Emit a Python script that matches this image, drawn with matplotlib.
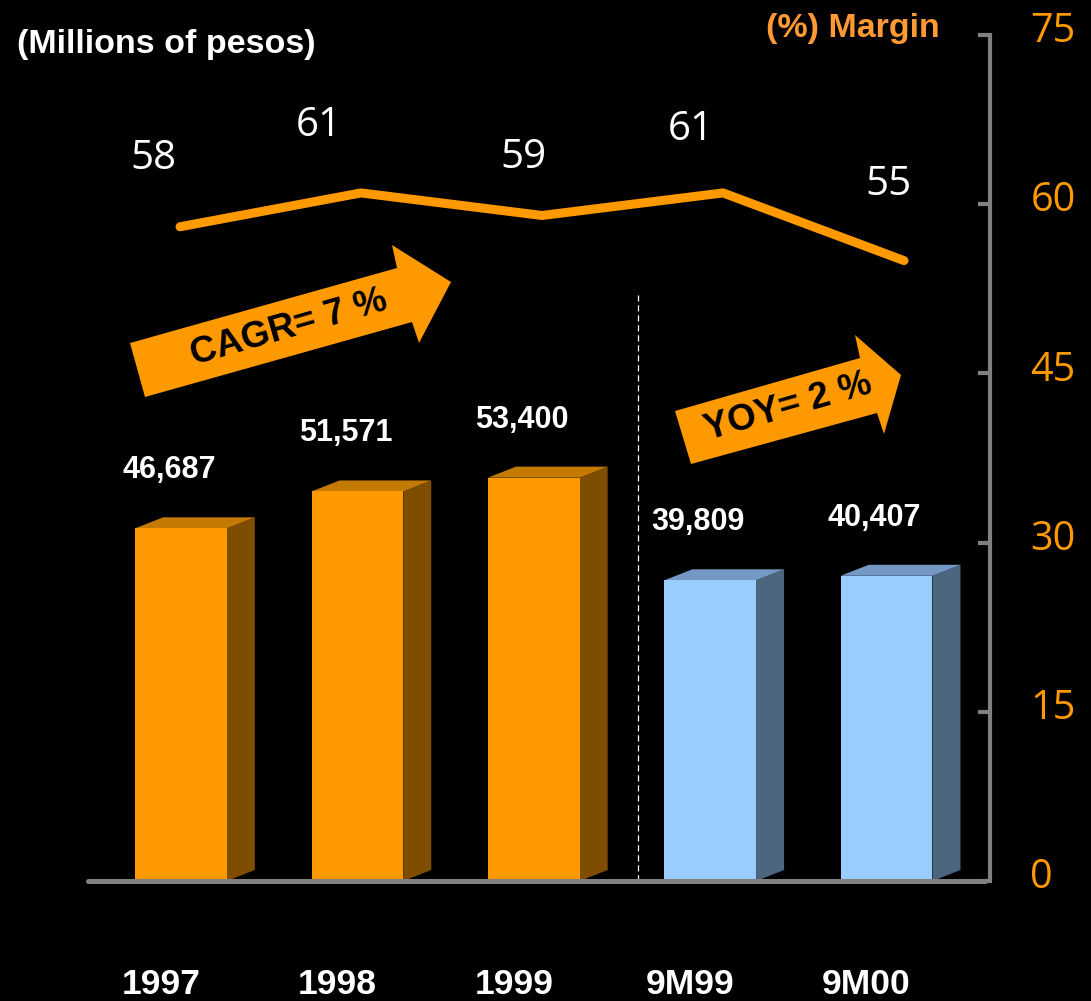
import matplotlib
matplotlib.use("Agg")
import matplotlib.pyplot as plt
from matplotlib.patches import Polygon
from matplotlib.transforms import ScaledTranslation

# ---------------- data ----------------
categories = ["1997", "1998", "1999", "9M99", "9M00"]
sales = [46687, 51571, 53400, 39809, 40407]
sales_labels = ["46,687", "51,571", "53,400", "39,809", "40,407"]
margin = [58, 61, 59, 61, 55]
margin_labels = ["58", "61", "59", "61", "55"]
groups = ["annual", "annual", "annual", "ytd", "ytd"]
margin_ticks = [0, 15, 30, 45, 60, 75]
cagr_text = "CAGR= 7 %"
yoy_text = "YOY= 2 %"

# ---------------- style ----------------
W, H, DPI = 1091, 1001, 100
ORANGE = "#FF9900"
GRAY = "#808080"
palette = {
    "annual": {"front": "#FF9900", "top": "#C47A00", "side": "#7F4D00"},
    "ytd": {"front": "#99CCFF", "top": "#7399C4", "side": "#4D6680"},
}

fig = plt.figure(figsize=(W / DPI, H / DPI), dpi=DPI, facecolor="black")


def fx(px):
    return px / W


def fy(py):
    return 1 - py / H


ax_left, ax_right, ax_top, ax_bottom = 85, 990, 35, 881
pos = [fx(ax_left), fy(ax_bottom), (ax_right - ax_left) / W, (ax_bottom - ax_top) / H]

ax = fig.add_axes(pos, facecolor="black")
ax.set_xlim(-0.544, 4.586)
ax.set_ylim(0, 112000)
for s in ax.spines.values():
    s.set_visible(False)
ax.set_xticks([])
ax.set_yticks([])

xs = list(range(len(categories)))
bw = 0.52
ax_px_w = ax_right - ax_left
ax_px_h = ax_bottom - ax_top
dx = 28 / ax_px_w * (4.586 + 0.544)
dy = 11 / ax_px_h * 112000

for x, v, g in zip(xs, sales, groups):
    c = palette[g]
    ax.bar(x, v, width=bw, color=c["front"], zorder=3, linewidth=0)
    side = [(x + bw / 2, 0), (x + bw / 2 + dx, dy), (x + bw / 2 + dx, v + dy), (x + bw / 2, v)]
    top = [(x - bw / 2, v), (x - bw / 2 + dx, v + dy), (x + bw / 2 + dx, v + dy), (x + bw / 2, v)]
    ax.add_patch(Polygon(side, closed=True, facecolor=c["side"], edgecolor="none", zorder=2))
    ax.add_patch(Polygon(top, closed=True, facecolor=c["top"], edgecolor="none", zorder=2))

# value labels above bars
for x, v, lab in zip(xs, sales, sales_labels):
    ax.annotate(lab, (x, v), xytext=(-12 * 0.72, 58 * 0.72), textcoords="offset points",
                ha="center", va="center", color="white", fontsize=22,
                fontweight="bold", family=["Liberation Sans", "DejaVu Sans"], zorder=6)

# category labels
cat_off = ScaledTranslation(-20 / DPI, 0, fig.dpi_scale_trans)
for x, lab in zip(xs, categories):
    ax.text(x, -103 / ax_px_h, lab, transform=ax.get_xaxis_transform() + cat_off,
            ha="center", va="center", color="white", fontsize=25.5, fontweight="bold",
            family=["Liberation Sans Narrow", "Liberation Sans", "DejaVu Sans"], clip_on=False)

# baseline
ax.axhline(0, xmin=3 / ax_px_w, xmax=900 / ax_px_w, color=GRAY, lw=3.6, zorder=5,
           solid_capstyle="round", clip_on=False)

# dashed separator
ax.axvline(2.59, ymin=0, ymax=(881 - 295) / ax_px_h, color="white", lw=0.9,
           ls=(0, (5, 3)), zorder=1)

# ---------------- margin line (right axis) ----------------
ax2 = fig.add_axes(pos, facecolor="none")
ax2.set_xlim(-0.525, 4.475)
ax2.set_ylim(0, 75)
ax2.set_xticks([])
for k in ["left", "top", "bottom"]:
    ax2.spines[k].set_visible(False)
ax2.spines["right"].set_color(GRAY)
ax2.spines["right"].set_linewidth(3)
ax2.yaxis.tick_right()
ax2.set_yticks(margin_ticks)
ax2.set_yticklabels([str(t) for t in margin_ticks])
ax2.tick_params(axis="y", direction="in", length=9, width=3, color=GRAY, pad=29,
                labelcolor=ORANGE, labelsize=28.5)
lab_off = ScaledTranslation(0, 8 / DPI, fig.dpi_scale_trans)
for t in ax2.get_yticklabels():
    t.set_family(["Open Sans", "DejaVu Sans"])
    t.set_transform(t.get_transform() + lab_off)

ax2.plot(xs, margin, color=ORANGE, lw=6.5, solid_capstyle="round", zorder=4)

label_offsets_px = [(-27, 58), (-42, 57), (-19, 47), (-32, 53), (-16, 66)]
for x, v, lab, (ox, oy) in zip(xs, margin, margin_labels, label_offsets_px):
    ax2.annotate(lab, (x, v), xytext=(ox * 0.72, oy * 0.72), textcoords="offset points",
                 ha="center", va="baseline", color="white", fontsize=29,
                 family=["Open Sans", "DejaVu Sans"])

# ---------------- titles ----------------
fig.text(fx(17), fy(45), "(Millions of pesos)", ha="left", va="center", color="white",
         fontsize=24.5, fontweight="bold", family=["Liberation Sans", "DejaVu Sans"])
fig.text(fx(940), fy(28), "(%) Margin", ha="right", va="center", color="#FF9933",
         fontsize=24.5, fontweight="bold", family=["Liberation Sans", "DejaVu Sans"])

# ---------------- arrows ----------------
def arrow(points, text, center, rot):
    pts = [(fx(px), fy(py)) for px, py in points]
    fig.add_artist(Polygon(pts, closed=True, facecolor=ORANGE, edgecolor="none",
                           transform=fig.transFigure, zorder=7))
    fig.text(fx(center[0]), fy(center[1]), text, ha="center", va="center", rotation=rot,
             rotation_mode="anchor", color="black", fontsize=26.5, fontweight="bold",
             family=["Liberation Sans", "DejaVu Sans"], zorder=8)


arrow([(130, 343), (397, 268), (392, 245), (451, 282), (419, 343), (412, 322), (145, 397)],
      cagr_text, (289, 328), 16)
arrow([(675, 411), (860, 358), (855, 335), (901, 375), (884, 434), (877, 413), (691, 464)],
      yoy_text, (788, 407), 16)

fig.savefig("out.png", dpi=DPI, facecolor="black")
